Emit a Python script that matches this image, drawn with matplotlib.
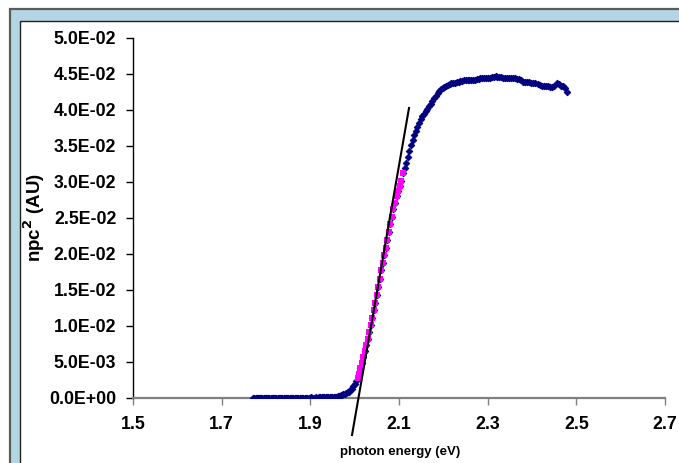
import matplotlib
matplotlib.use("Agg")
import matplotlib.pyplot as plt
from matplotlib.patches import Rectangle

plt.rcParams['font.family'] = ['Liberation Sans', 'DejaVu Sans']

# measurement grid (nm), converted to photon energy
wavelength_nm = list(range(500, 701))

npc2 = [
    # 500-509
    0.0425, 0.0430, 0.0433, 0.0434, 0.0436, 0.0437, 0.0434, 0.0432, 0.0432, 0.0433,
    # 510-519
    0.0433, 0.0433, 0.0434, 0.0435, 0.0436, 0.0437, 0.0438, 0.0438, 0.0439, 0.0439,
    # 520-529
    0.0439, 0.0439, 0.0441, 0.0443, 0.0443, 0.0444, 0.0444, 0.0444, 0.0445, 0.0445,
    # 530-539
    0.0445, 0.0445, 0.0446, 0.0446, 0.0446, 0.0447, 0.0446, 0.0446, 0.0445, 0.0445,
    # 540-549
    0.0445, 0.0444, 0.0444, 0.0444, 0.0443, 0.0443, 0.0442, 0.0442, 0.0441, 0.0441,
    # 550-559
    0.0442, 0.0441, 0.0441, 0.0440, 0.0440, 0.0439, 0.0439, 0.0438, 0.0438, 0.0437,
    # 560-569
    0.0436, 0.0435, 0.0434, 0.0432, 0.0431, 0.0429, 0.0426, 0.0423, 0.0420, 0.0417,
    # 570-579
    0.0413, 0.0409, 0.0405, 0.0402, 0.0399, 0.0395, 0.0391, 0.0387, 0.0382, 0.0377,
    # 580-589
    0.0371, 0.0365, 0.0359, 0.0351, 0.0343, 0.0335, 0.0327, 0.0319, 0.0312, 0.0302,
    # 590-599
    0.0295, 0.0287, 0.0280, 0.0271, 0.0262, 0.0251, 0.0242, 0.0231, 0.0220, 0.0209,
    # 600-609
    0.0199, 0.0188, 0.0178, 0.0165, 0.0154, 0.0143, 0.0132, 0.0122, 0.0111, 0.0101,
    # 610-619
    0.0091, 0.0082, 0.0074, 0.0065, 0.0057, 0.0049, 0.0041, 0.0034, 0.0028, 0.0023,
    # 620-629
    0.0019, 0.0016, 0.0013, 0.0011, 0.0009, 0.0008, 0.0007, 0.0006, 0.0005, 0.0004,
    # 630-639
    0.0004, 0.0003, 0.0003, 0.0002, 0.0002, 0.0002, 0.0001, 0.0001, 0.0001, 0.0001,
    # 640-649
    0.0001, 0.0001, 0.0001, 0.0001, 0.0001, 0.0001, 0.0001, 0.0000, 0.0001, 0.0000,
    # 650-659
    0.0000, 0.0000, 0.0001, 0.0000, 0.0000, 0.0000, 0.0000, 0.0000, 0.0000, 0.0000,
    # 660-669
    0.0000, 0.0000, 0.0000, 0.0000, 0.0000, 0.0000, 0.0000, 0.0000, 0.0000, 0.0000,
    # 670-679
    0.0000, 0.0000, 0.0000, 0.0000, 0.0000, 0.0000, 0.0000, 0.0000, 0.0000, 0.0000,
    # 680-689
    0.0000, 0.0000, 0.0000, 0.0000, 0.0000, 0.0000, 0.0000, 0.0000, 0.0000, 0.0000,
    # 690-700
    0.0000, 0.0000, 0.0000, 0.0000, 0.0000, 0.0000, 0.0000, 0.0000, 0.0000, 0.0000, 0.0000,
]

# linear-fit region (highlighted)
fit_range_nm = (588, 618)

# tangent line end points (eV, AU)
tangent_x = [1.994, 2.1226]
tangent_y = [-0.00514, 0.04028]

x_ticks = [1.5, 1.7, 1.9, 2.1, 2.3, 2.5, 2.7]
y_ticks = [0.0, 0.005, 0.010, 0.015, 0.020, 0.025, 0.030, 0.035, 0.040, 0.045, 0.050]
y_tick_labels = ['0.0E+00', '5.0E-03', '1.0E-02', '1.5E-02', '2.0E-02', '2.5E-02',
                 '3.0E-02', '3.5E-02', '4.0E-02', '4.5E-02', '5.0E-02']

energy = [1240.0 / w for w in wavelength_nm]
fit_e = [e for w, e in zip(wavelength_nm, energy) if fit_range_nm[0] <= w <= fit_range_nm[1]]
fit_y = [v for w, v in zip(wavelength_nm, npc2) if fit_range_nm[0] <= w <= fit_range_nm[1]]

W, H = 679, 463
fig = plt.figure(figsize=(W / 100, H / 100), dpi=100)
fig.patch.set_facecolor('white')

# outer chart frame (light blue band)
fig.patches.append(Rectangle((10 / W, -0.1), 1.2, 1 - 8.5 / H + 0.1, transform=fig.transFigure,
                             facecolor='#b4d5e4', edgecolor='#5a5a5a', linewidth=1.6, zorder=-10))
fig.patches.append(Rectangle((20 / W, -0.1), 1.2, 1 - 21.5 / H + 0.1, transform=fig.transFigure,
                             facecolor='white', edgecolor='#202020', linewidth=1.0, zorder=-9))

ax = fig.add_axes([133 / W, 1 - 398 / H, (665 - 133) / W, (398 - 38) / H])
ax.set_zorder(5)
ax.patch.set_visible(False)

ax.plot(energy, npc2, linestyle='none', marker='D', markersize=3.4,
        color='#000080', markeredgewidth=0.6, zorder=3)
ax.plot(fit_e, fit_y, linestyle='none', marker='s', markersize=4.2,
        color='#ff00ff', markeredgewidth=0, zorder=4)
ax.plot(tangent_x, tangent_y, color='black', linewidth=1.5, clip_on=False, zorder=5)

ax.set_xlim(1.5, 2.7)
ax.set_ylim(0, 0.05)
ax.set_xticks(x_ticks)
ax.set_xticklabels([f'{t:.1f}' for t in x_ticks])
ax.set_yticks(y_ticks)
ax.set_yticklabels(y_tick_labels)

for s in ['top', 'right']:
    ax.spines[s].set_visible(False)
ax.spines['left'].set_color('black')
ax.spines['left'].set_linewidth(1.0)
ax.spines['bottom'].set_color('#808080')
ax.spines['bottom'].set_linewidth(1.6)

ax.tick_params(axis='y', direction='out', length=5, width=1, color='black', pad=7,
               labelsize=12.8)
ax.tick_params(axis='x', direction='out', length=5, width=1, color='#808080', pad=8,
               labelsize=12.8)
for lbl in ax.get_xticklabels() + ax.get_yticklabels():
    lbl.set_fontweight('bold')

ax.set_xlabel('photon energy (eV)', fontsize=9.5, fontweight='bold')
ax.set_ylabel('npc$^\\mathbf{2}$ (AU)', fontsize=13.5, fontweight='bold')
ax.xaxis.set_label_coords((400 - 133) / (665 - 133), -(446 - 398) / (398 - 38))
ax.yaxis.set_label_coords(-(133 - 47) / (665 - 133), (398 - 218) / (398 - 38))

fig.savefig('out.png', dpi=100)
